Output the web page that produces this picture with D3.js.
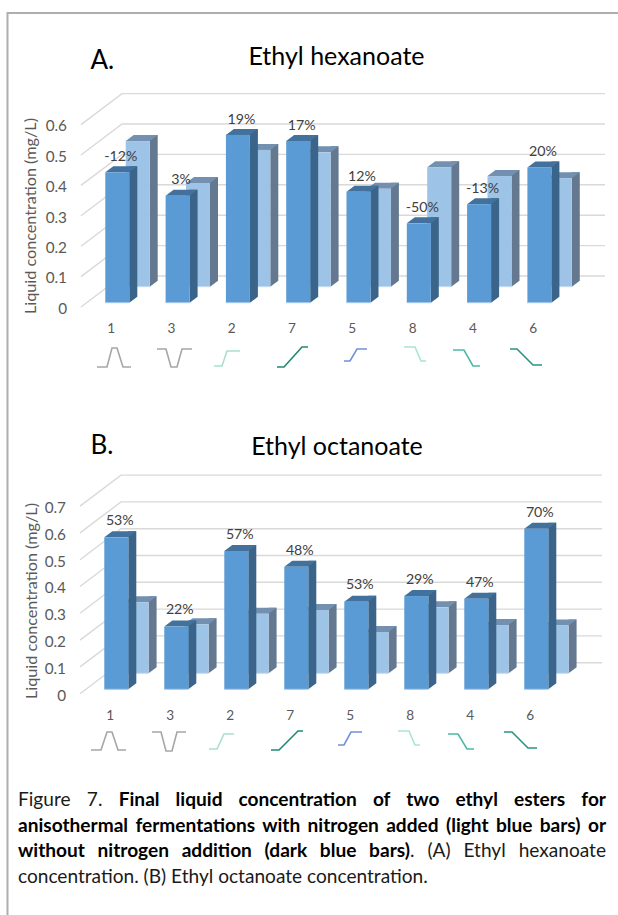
<!DOCTYPE html>
<html><head><meta charset="utf-8">
<script src="https://cdn.jsdelivr.net/npm/d3@7"></script>
<style>
html,body{margin:0;padding:0;background:#fff;width:618px;height:915px;overflow:hidden}
svg{position:absolute;left:0;top:0}
.cap{position:absolute;left:18px;width:588px;font:19.1px/25.5px Lato,sans-serif;color:#1a1a1a;white-space:nowrap}
.j{white-space:normal;text-align:justify;text-align-last:justify}
b{font-weight:700;color:#000}
</style></head><body>
<svg id="c" width="618" height="915"></svg>
<div class="cap j" style="top:786px">Figure 7. <b>Final liquid concentration of two ethyl esters for</b></div>
<div class="cap j" style="top:811.5px"><b>anisothermal fermentations with nitrogen added (light blue bars) or</b></div>
<div class="cap j" style="top:837px"><b>without nitrogen addition (dark blue bars)</b>. (A) Ethyl hexanoate</div>
<div class="cap" style="top:862.5px">concentration. (B) Ethyl octanoate concentration.</div>
<script>
const categories = ["1","3","2","7","5","8","4","6"];
const hexDark  = [0.429,0.352,0.552,0.532,0.365,0.261,0.324,0.445];
const hexLight = [0.479,0.341,0.450,0.442,0.322,0.393,0.364,0.357];
const hexPct   = ["-12%","3%","19%","17%","12%","-50%","-13%","20%"];
const octDark  = [0.567,0.234,0.516,0.457,0.327,0.348,0.338,0.599];
const octLight = [0.265,0.183,0.222,0.236,0.154,0.246,0.180,0.178];
const octPct   = ["53%","22%","57%","48%","53%","29%","47%","70%"];
const hexTicks = [0,0.1,0.2,0.3,0.4,0.5,0.6];
const octTicks = [0,0.1,0.2,0.3,0.4,0.5,0.6,0.7];
const profileColors = ["#a6a6a6","#a6a6a6","#a8e0cc","#1f8a72","#7090d8","#a8e6d0","#4fb8a8","#2a9580"];
const hexProfiles = [
 [[97,367],[107,367],[112,348],[117,348],[123,367],[131,367]],
 [[157,349],[166,349],[171,367],[177,367],[182,349],[192,349]],
 [[214,366],[222,366],[227,351],[240,351]],
 [[277,367],[284,367],[302,347],[308,347]],
 [[344,361],[350,361],[357,349],[367,349]],
 [[404,347],[415,347],[421,361],[426,361]],
 [[453,350],[464,350],[473,366],[480,366]],
 [[510,349],[517,349],[533,365],[542,365]]];
const octProfiles = [
 [[91,750],[101,750],[107,732],[112,732],[118,750],[126,750]],
 [[152,732],[161,732],[166,751],[172,751],[177,732],[186,732]],
 [[209,749],[217,749],[224,734],[234,734]],
 [[271,750],[279,750],[298,731],[303,731]],
 [[338,745],[344,745],[351,732],[362,732]],
 [[398,731],[409,731],[415,745],[420,745]],
 [[448,734],[458,734],[467,749],[474,749]],
 [[504,732],[512,732],[528,748],[537,748]]];

const svg = d3.select("#c");
const FONT = "Lato,sans-serif";
// page frame
svg.append("path").attr("d","M7.5,915V13H618").attr("fill","none").attr("stroke","#aeaeae").attr("stroke-width",2);

function panel(o){
  const g = svg.append("g");
  const BW=24, dx=8, dy=6;          // bar front width, bar side offsets
  const y = d3.scaleLinear().domain([0,1]).range([0,o.unit]);
  const xDark = d3.scalePoint().domain(categories).range([o.x0, o.x0+7*o.step]);
  const lineColor="#d9d9d9";
  // back wall gridlines and side wall lines
  o.ticks.forEach(t=>{
    const by=o.back0-y(t);
    g.append("path").attr("d",`M${o.wallFrontX},${by+o.wallDy}L${o.wallBackX},${by}L${o.gridEnd},${by}`)
      .attr("fill","none").attr("stroke",lineColor).attr("stroke-width",1.4);
    g.append("text").attr("x",o.tickX).attr("y",by+o.wallDy+1.5).attr("dy","0.35em").attr("text-anchor","end")
      .attr("font-family",FONT).attr("font-size",15.3).attr("fill","#595959").text(t);
  });
  // bars
  function bar(x,base,h,c){
    const top=base-h;
    g.append("path").attr("d",`M${x+BW},${base}L${x+BW+dx},${base-dy}V${top-dy}H${x+BW}V${top}Z`).attr("fill",c.side);
    g.append("path").attr("d",`M${x},${top}L${x+dx},${top-dy}H${x+BW+dx}L${x+BW},${top}Z`).attr("fill",c.top);
    g.append("rect").attr("x",x).attr("y",top).attr("width",BW).attr("height",h).attr("fill",c.front);
    g.append("path").attr("d",`M${x},${base}H${x+BW}`).attr("stroke",c.edge).attr("stroke-width",1);
  }
  const light={front:"#9dc3e6",side:"#64798f",top:"#7390b0",edge:"#c4daf0"};
  const dark={front:"#5b9bd5",side:"#3a6489",top:"#41719c",edge:"#a9c8e8"};
  categories.forEach((c,i)=> bar(xDark(c)+o.lightDx,o.lightBase,y(o.light[i]),light));
  categories.forEach((c,i)=> bar(xDark(c),o.darkBase,y(o.dark[i]),dark));
  categories.forEach((c,i)=>{
    g.append("text").attr("x",xDark(c)+15.5).attr("y",o.darkBase-y(o.dark[i])-o.pctUp)
      .attr("text-anchor","middle").attr("font-family",FONT).attr("font-size",14.2).attr("fill","#404040").text(o.pct[i]);
    g.append("text").attr("x",xDark(c)+o.catDx).attr("y",o.catY).attr("text-anchor","middle")
      .attr("font-family",FONT).attr("font-size",13.6).attr("fill","#595959").text(c);
    g.append("path").attr("d",d3.line()(o.profiles[i])).attr("fill","none")
      .attr("stroke",profileColors[i]).attr("stroke-width",1.6);
  });
  // axis title
  g.append("text").attr("transform",`translate(${o.axisX},${o.axisY}) rotate(-90)`).attr("text-anchor","middle")
    .attr("font-family",FONT).attr("font-size",16.2).attr("fill","#595959").text("Liquid concentration (mg/L)");
  // titles
  g.append("text").attr("x",o.titleX).attr("y",o.titleY).attr("text-anchor","middle")
    .attr("font-family",FONT).attr("font-size",25).attr("fill","#000").text(o.title);
  g.append("text").attr("x",90.5).attr("y",o.letterY)
    .attr("font-family",FONT).attr("font-size",26).attr("fill","#000").text(o.letter);
}
panel({title:"Ethyl hexanoate",titleX:336.5,titleY:65,letter:"A.",letterY:69,
  dark:hexDark,light:hexLight,pct:hexPct,ticks:hexTicks,profiles:hexProfiles,
  unit:304,back0:276,wallDy:31,wallFrontX:81,wallBackX:122,gridEnd:605,tickX:67,
  x0:105.3,step:60.3,lightDx:20.4,darkBase:302.7,lightBase:286.7,
  catDx:5.8,catY:333,axisX:35.5,axisY:216,pctUp:11.2});
panel({title:"Ethyl octanoate",titleX:337,titleY:455,letter:"B.",letterY:454,
  dark:octDark,light:octLight,pct:octPct,ticks:octTicks,profiles:octProfiles,
  unit:268,back0:662.7,wallDy:31,wallFrontX:80,wallBackX:121,gridEnd:602,tickX:66,
  x0:104.3,step:60,lightDx:20.3,darkBase:689.3,lightBase:673.3,
  catDx:5.8,catY:719.5,axisX:36.5,axisY:601,pctUp:12.2});
</script>
</body></html>
